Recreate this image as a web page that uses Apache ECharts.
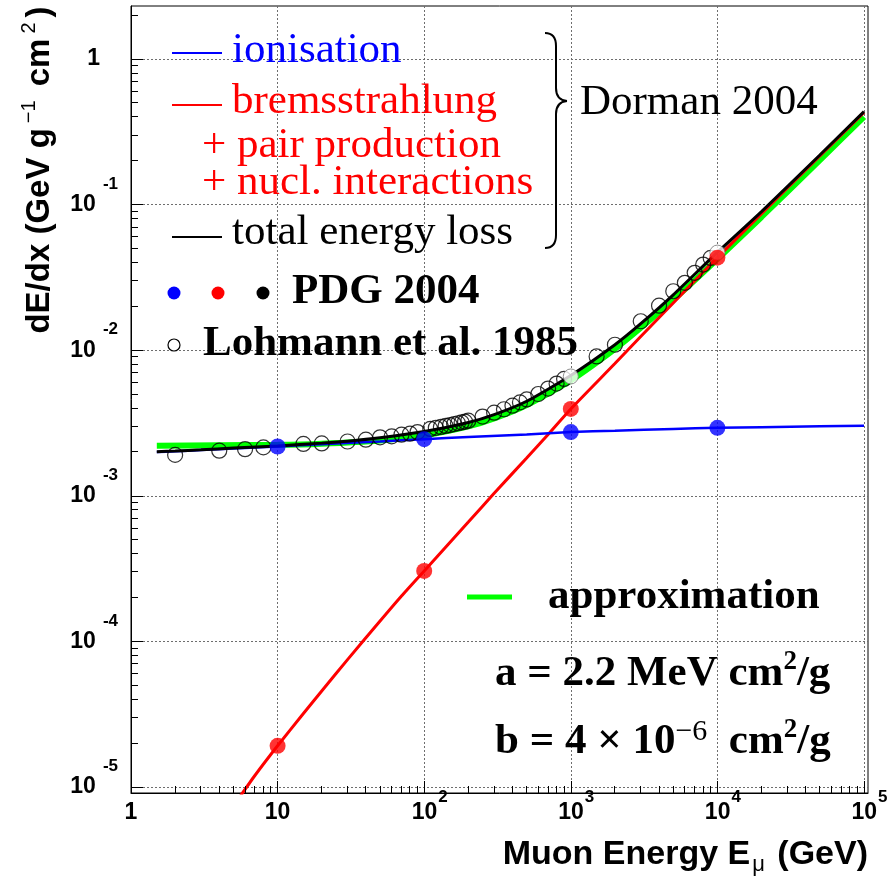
<!DOCTYPE html>
<html>
<head>
<meta charset="utf-8">
<script src="https://cdn.jsdelivr.net/npm/echarts@6.0.0/dist/echarts.min.js"></script>
<style>
html,body{margin:0;padding:0;background:#ffffff;}
#chart{width:891px;height:880px;}
</style>
</head>
<body>
<div id="chart"></div>
<script>
// ---------------- data ----------------
// ionisation (Dorman 2004), blue line
const ionE = [1.5, 2, 3, 5, 10, 20, 50, 100, 200, 500, 1000, 2000, 5000, 10000, 20000, 50000, 100000];
const ionV = [2.00e-3, 2.02e-3, 2.06e-3, 2.11e-3, 2.18e-3, 2.26e-3, 2.36e-3, 2.45e-3, 2.53e-3, 2.64e-3, 2.74e-3, 2.80e-3, 2.88e-3, 2.93e-3, 2.96e-3, 3.00e-3, 3.03e-3];
// bremsstrahlung + pair production + nuclear interactions, red line
const radE = [5.5, 7, 10, 15, 20, 30, 50, 70, 100, 200, 300, 500, 700, 1000, 2000, 3000, 5000, 10000, 20000, 50000, 100000];
const radV = [8.5e-6, 1.2e-5, 1.92e-5, 3.2e-5, 4.57e-5, 7.5e-5, 1.38e-4, 2.05e-4, 3.05e-4, 6.6e-4, 1.04e-3, 1.82e-3, 2.64e-3, 3.95e-3, 8.1e-3, 1.24e-2, 2.11e-2, 4.32e-2, 8.65e-2, 0.216, 0.43];
// total energy loss, black line
const totE = [1.5, 2, 3, 5, 10, 20, 30, 50, 100, 200, 300, 500, 1000, 2000, 3000, 5000, 10000, 20000, 50000, 100000];
const totV = [2.01e-3, 2.03e-3, 2.07e-3, 2.13e-3, 2.20e-3, 2.30e-3, 2.37e-3, 2.50e-3, 2.76e-3, 3.19e-3, 3.61e-3, 4.46e-3, 6.70e-3, 1.09e-2, 1.52e-2, 2.40e-2, 4.70e-2, 8.95e-2, 0.219, 0.435];
// approximation a + bE, green line
const apxE = [1.5, 10, 20, 50, 100, 200, 300, 500, 1000, 2000, 5000, 10000, 20000, 50000, 100000];
const apxV = [2.21e-3, 2.24e-3, 2.28e-3, 2.40e-3, 2.60e-3, 3.00e-3, 3.40e-3, 4.20e-3, 6.20e-3, 1.02e-2, 2.22e-2, 4.22e-2, 8.22e-2, 0.202, 0.40];
// PDG 2004 points
const pdgE = [10, 100, 1000, 10000];
const pdgIon = [2.18e-3, 2.45e-3, 2.74e-3, 2.93e-3];
const pdgRad = [1.92e-5, 3.05e-4, 3.95e-3, 4.32e-2];
const pdgTotE = [1000, 10000];
const pdgTot = [6.6e-3, 4.68e-2];
// Lohmann et al. 1985 (open circles)
const lohE = [2, 4, 6, 8, 15, 20, 30, 40, 50, 60, 70, 80, 90,
  110, 120, 130, 140, 150, 160, 170, 180, 190, 200, 250, 300, 350, 400, 450, 500, 600, 700, 800, 900,
  1500, 2000, 3000, 4000, 5000, 6000, 7000, 8000, 9000];
const lohV = [1.91e-3, 2.04e-3, 2.09e-3, 2.15e-3, 2.27e-3, 2.29e-3, 2.36e-3, 2.43e-3, 2.52e-3, 2.56e-3, 2.63e-3, 2.67e-3, 2.74e-3,
  2.88e-3, 2.93e-3, 2.97e-3, 3.02e-3, 3.06e-3, 3.11e-3, 3.15e-3, 3.19e-3, 3.23e-3, 3.28e-3, 3.50e-3, 3.72e-3, 3.93e-3, 4.16e-3, 4.38e-3, 4.59e-3, 5.00e-3, 5.45e-3, 5.90e-3, 6.35e-3,
  9.06e-3, 1.09e-2, 1.58e-2, 2.02e-2, 2.54e-2, 2.90e-2, 3.40e-2, 3.87e-2, 4.30e-2];

// axis ranges and labels
const xMin = 1, xMax = 106500;
const yMin = 9.1e-6, yMax = 2.31;
const minorMantissas = [2, 3, 4, 5, 6, 7, 8, 9];
const xDecades = [0, 1, 2, 3, 4];
const yDecades = [-6, -5, -4, -3, -2, -1, 0];

// ---------------- chart ----------------
const SANS = '"Liberation Sans", Arial, Helvetica, sans-serif';
const SERIF = '"Liberation Serif", "Times New Roman", Times, serif';

function pairs(xs, ys) { return xs.map((x, i) => [x, ys[i]]); }
const xMinor = [];
xDecades.forEach(k => minorMantissas.forEach(m => xMinor.push([m * Math.pow(10, k), 1e-3])));
const yMinor = [];
yDecades.forEach(k => minorMantissas.forEach(m => yMinor.push([2, m * Math.pow(10, k)])));

function decadeOf(v) {
  const l = Math.log10(v);
  const n = Math.round(l);
  return Math.abs(l - n) < 1e-6 ? n : null;
}

const chart = echarts.init(document.getElementById('chart'), null, { renderer: 'canvas' });

const braceStyle = { stroke: '#000', lineWidth: 2, fill: 'none' };

const option = {
  animation: false,
  backgroundColor: '#ffffff',
  grid: {
    left: 131, right: 23, top: 6, bottom: 87,
    show: true, borderColor: '#000', borderWidth: 1, backgroundColor: 'transparent',
    containLabel: false, outerBoundsMode: 'none'
  },
  xAxis: {
    type: 'log', logBase: 10, min: xMin, max: xMax,
    axisLine: { show: true, lineStyle: { color: '#000', width: 1 } },
    axisTick: { show: true, inside: true, length: 12, lineStyle: { color: '#000', width: 1 } },
    splitLine: { show: true, showMinLine: false, showMaxLine: false, lineStyle: { color: '#6e6e6e', width: 1, type: [2, 2] } },
    axisLabel: {
      showMaxLabel: false, margin: -4,
      formatter: function (v) {
        const n = decadeOf(v);
        if (n === null) return '';
        if (n === 0) return '{b|1}';
        if (n === 1) return '{b|10}';
        return '{sp| }{b|10}{s|' + n + '}';
      },
      rich: {
        b: { fontFamily: SANS, fontWeight: 'bold', fontSize: 23, lineHeight: 48, color: '#000' },
        s: { fontFamily: SANS, fontWeight: 'bold', fontSize: 17, lineHeight: 17, verticalAlign: 'top', color: '#000', padding: [0, 0, 0, 1] },
        sp: { width: 11, fontSize: 17, lineHeight: 17 }
      }
    }
  },
  yAxis: {
    type: 'log', logBase: 10, min: yMin, max: yMax,
    axisLine: { show: true, lineStyle: { color: '#000', width: 1 } },
    axisTick: { show: true, inside: true, length: 12, lineStyle: { color: '#000', width: 1 } },
    splitLine: { show: true, showMinLine: false, showMaxLine: false, lineStyle: { color: '#6e6e6e', width: 1, type: [2, 2] } },
    axisLabel: {
      showMinLabel: false, showMaxLabel: false, margin: 13,
      formatter: function (v) {
        const n = decadeOf(v);
        if (n === null) return '';
        if (n === 0) return '{one|1}';
        return '{b|10}{s|' + n + '}';
      },
      rich: {
        b: { fontFamily: SANS, fontWeight: 'bold', fontSize: 23, lineHeight: 58, color: '#000' },
        one: { fontFamily: SANS, fontWeight: 'bold', fontSize: 23, lineHeight: 58, color: '#000', padding: [0, 18, 0, 0] },
        s: { fontFamily: SANS, fontWeight: 'bold', fontSize: 17, lineHeight: 17, verticalAlign: 'top', color: '#000', padding: [0, 0, 0, 7] }
      }
    }
  },
  series: [
    { type: 'custom', name: 'xminor', coordinateSystem: 'cartesian2d', silent: true, z: 6, clip: false,
      data: xMinor,
      renderItem: function (params, api) {
        const cs = params.coordSys;
        let px = api.coord([api.value(0), api.value(1)])[0];
        if (px < cs.x + 1 || px > cs.x + cs.width - 1) return;
        px = Math.round(px - 0.5) + 0.5;
        const yb = cs.y + cs.height;
        return { type: 'line', shape: { x1: px, y1: yb, x2: px, y2: yb - 7 }, style: { stroke: '#000', lineWidth: 1 } };
      }
    },
    { type: 'custom', name: 'yminor', coordinateSystem: 'cartesian2d', silent: true, z: 6, clip: false,
      data: yMinor,
      renderItem: function (params, api) {
        const cs = params.coordSys;
        let py = api.coord([api.value(0), api.value(1)])[1];
        if (py < cs.y + 1 || py > cs.y + cs.height - 1) return;
        py = Math.round(py - 0.5) + 0.5;
        return { type: 'line', shape: { x1: cs.x, y1: py, x2: cs.x + 7, y2: py }, style: { stroke: '#000', lineWidth: 1 } };
      }
    },
    { type: 'line', name: 'approximation', data: pairs(apxE, apxV), symbol: 'none', smooth: 0.2,
      lineStyle: { color: '#00ff00', width: 6 }, z: 2, emphasis: { disabled: true } },
    { type: 'line', name: 'radiative', data: pairs(radE, radV), symbol: 'none', smooth: 0.2,
      lineStyle: { color: '#ff0000', width: 3 }, z: 3, emphasis: { disabled: true } },
    { type: 'line', name: 'ionisation', data: pairs(ionE, ionV), symbol: 'none', smooth: 0.2,
      lineStyle: { color: '#0000ff', width: 2.5 }, z: 4, emphasis: { disabled: true } },
    { type: 'line', name: 'total', data: pairs(totE, totV), symbol: 'none', smooth: 0.2,
      lineStyle: { color: '#000000', width: 3 }, z: 5, emphasis: { disabled: true } },
    { type: 'scatter', name: 'Lohmann et al. 1985', data: pairs(lohE, lohV), symbol: 'circle', symbolSize: 15,
      itemStyle: { color: 'rgba(255,255,255,0)', borderColor: '#000', borderWidth: 1.2 }, z: 7, emphasis: { disabled: true } },
    { type: 'scatter', name: 'PDG total', data: pairs(pdgTotE, pdgTot), symbol: 'circle', symbolSize: 15,
      itemStyle: { color: '#ffffff', borderColor: '#777', borderWidth: 1 }, z: 8, emphasis: { disabled: true } },
    { type: 'scatter', name: 'PDG ionisation', data: pairs(pdgE, pdgIon), symbol: 'circle', symbolSize: 16,
      itemStyle: { color: '#0000ff' }, z: 9, emphasis: { disabled: true } },
    { type: 'scatter', name: 'PDG radiative', data: pairs(pdgE, pdgRad), symbol: 'circle', symbolSize: 16,
      itemStyle: { color: '#ff0000' }, z: 9, emphasis: { disabled: true } }
  ],
  graphic: {
    elements: [
      // axis titles
      { type: 'text', x: 40, y: 170, rotation: Math.PI / 2, silent: true, z: 50,
        style: { text: '{t|dE/dx (GeV g}{s|−1}{t| cm}{s|2}{t|)}', align: 'center', verticalAlign: 'middle',
          rich: {
            t: { fontFamily: SANS, fontWeight: 'bold', fontSize: 33, lineHeight: 42, fill: '#000' },
            s: { fontFamily: SANS, fontWeight: 'normal', fontSize: 20, lineHeight: 20, verticalAlign: 'top', fill: '#000', padding: [0, 5, 0, 5] }
          } } },
      { type: 'text', x: 868, y: 855, silent: true, z: 50,
        style: { text: '{t|Muon Energy E}{u|μ}{t| (GeV)}', align: 'right', verticalAlign: 'middle',
          rich: {
            t: { fontFamily: SANS, fontWeight: 'bold', fontSize: 34, lineHeight: 42, fill: '#000' },
            u: { fontFamily: SANS, fontWeight: 'normal', fontSize: 22, lineHeight: 22, verticalAlign: 'bottom', fill: '#000', padding: [0, 3, 0, 2] }
          } } },
      // Dorman 2004 legend
      { type: 'line', shape: { x1: 172, y1: 53, x2: 222, y2: 53 }, style: { stroke: '#0000ff', lineWidth: 2 }, silent: true, z: 50 },
      { type: 'text', x: 232, y: 50.4, silent: true, z: 50, style: { text: 'ionisation', fill: '#0000ff', fontFamily: SERIF, fontSize: 43, verticalAlign: 'middle' } },
      { type: 'line', shape: { x1: 172, y1: 105, x2: 222, y2: 105 }, style: { stroke: '#ff0000', lineWidth: 2 }, silent: true, z: 50 },
      { type: 'text', x: 232, y: 102, silent: true, z: 50, style: { text: 'bremsstrahlung', fill: '#ff0000', fontFamily: SERIF, fontSize: 43, verticalAlign: 'middle' } },
      { type: 'text', x: 202, y: 145.4, silent: true, z: 50, style: { text: '+ pair production', fill: '#ff0000', fontFamily: SERIF, fontSize: 43, verticalAlign: 'middle' } },
      { type: 'text', x: 202, y: 183, silent: true, z: 50, style: { text: '+ nucl. interactions', fill: '#ff0000', fontFamily: SERIF, fontSize: 43, verticalAlign: 'middle' } },
      { type: 'line', shape: { x1: 172, y1: 237, x2: 222, y2: 237 }, style: { stroke: '#000', lineWidth: 2 }, silent: true, z: 50 },
      { type: 'text', x: 232, y: 232.7, silent: true, z: 50, style: { text: 'total energy loss', fill: '#000', fontFamily: SERIF, fontSize: 43, verticalAlign: 'middle' } },
      // curly brace
      { type: 'bezierCurve', silent: true, z: 50, shape: { x1: 545, y1: 33, cpx1: 556, cpy1: 33, x2: 556, y2: 46 }, style: braceStyle },
      { type: 'line', silent: true, z: 50, shape: { x1: 556, y1: 46, x2: 556, y2: 88 }, style: braceStyle },
      { type: 'bezierCurve', silent: true, z: 50, shape: { x1: 556, y1: 88, cpx1: 556, cpy1: 100, x2: 567, y2: 101 }, style: braceStyle },
      { type: 'bezierCurve', silent: true, z: 50, shape: { x1: 567, y1: 101, cpx1: 556, cpy1: 102, x2: 556, y2: 114 }, style: braceStyle },
      { type: 'line', silent: true, z: 50, shape: { x1: 556, y1: 114, x2: 556, y2: 235 }, style: braceStyle },
      { type: 'bezierCurve', silent: true, z: 50, shape: { x1: 556, y1: 235, cpx1: 556, cpy1: 248, x2: 545, y2: 248 }, style: braceStyle },
      { type: 'text', x: 580, y: 102.4, silent: true, z: 50, style: { text: 'Dorman 2004', fill: '#000', fontFamily: SERIF, fontSize: 43, verticalAlign: 'middle' } },
      // PDG / Lohmann legend
      { type: 'circle', shape: { cx: 174, cy: 293, r: 6.5 }, style: { fill: '#0000ff' }, silent: true, z: 50 },
      { type: 'circle', shape: { cx: 218, cy: 293, r: 6.5 }, style: { fill: '#ff0000' }, silent: true, z: 50 },
      { type: 'circle', shape: { cx: 263, cy: 293, r: 6.5 }, style: { fill: '#000' }, silent: true, z: 50 },
      { type: 'text', x: 292, y: 292.1, silent: true, z: 50, style: { text: 'PDG 2004', fill: '#000', fontFamily: SERIF, fontWeight: 'bold', fontSize: 43, verticalAlign: 'middle' } },
      { type: 'circle', shape: { cx: 174, cy: 345, r: 6 }, style: { fill: '#fff', stroke: '#000', lineWidth: 1.2 }, silent: true, z: 50 },
      { type: 'text', x: 203, y: 343.7, silent: true, z: 50, style: { text: 'Lohmann et al. 1985', fill: '#000', fontFamily: SERIF, fontWeight: 'bold', fontSize: 43, verticalAlign: 'middle' } },
      // approximation legend
      { type: 'line', shape: { x1: 467, y1: 597, x2: 512, y2: 597 }, style: { stroke: '#00ff00', lineWidth: 5 }, silent: true, z: 50 },
      { type: 'text', x: 548, y: 597, silent: true, z: 50, style: { text: 'approximation', fill: '#000', fontFamily: SERIF, fontWeight: 'bold', fontSize: 43, verticalAlign: 'middle' } },
      { type: 'text', x: 495, y: 673.7, silent: true, z: 50,
        style: { text: '{t|a = 2.2 MeV cm}{s|2}{t|/g}', verticalAlign: 'middle',
          rich: {
            t: { fontFamily: SERIF, fontWeight: 'bold', fontSize: 43, lineHeight: 50, fill: '#000' },
            s: { fontFamily: SERIF, fontWeight: 'bold', fontSize: 27, lineHeight: 27, verticalAlign: 'top', fill: '#000' }
          } } },
      { type: 'text', x: 495, y: 742, silent: true, z: 50,
        style: { text: '{t|b = 4 × 10}{m|−6}{t|  cm}{s|2}{t|/g}', verticalAlign: 'middle',
          rich: {
            t: { fontFamily: SERIF, fontWeight: 'bold', fontSize: 43, lineHeight: 50, fill: '#000' },
            m: { fontFamily: SERIF, fontWeight: 'normal', fontSize: 30, lineHeight: 30, verticalAlign: 'top', fill: '#000' },
            s: { fontFamily: SERIF, fontWeight: 'bold', fontSize: 27, lineHeight: 27, verticalAlign: 'top', fill: '#000' }
          } } }
    ]
  }
};
chart.setOption(option);
</script>
</body>
</html>
